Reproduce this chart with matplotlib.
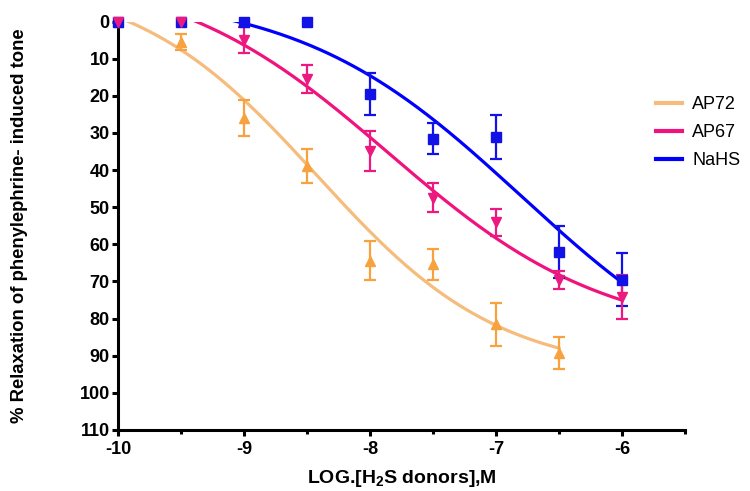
"""Concentration-response curves for H2S donors (relaxation of phenylephrine tone)."""

import matplotlib

matplotlib.use("Agg")
import matplotlib.pyplot as plt
import numpy as np
from matplotlib.ticker import MultipleLocator

# log molar concentrations
LOG_DOSE = [-10.0, -9.5, -9.0, -8.5, -8.0, -7.5, -7.0, -6.5, -6.0]

AP72_MEAN = [0.0, 5.5, 26.0, 39.0, 64.4, 65.4, 81.5, 89.3]
AP72_SEM = [0.0, 2.2, 4.9, 4.6, 5.2, 4.2, 5.8, 4.3]

AP67_MEAN = [0.0, 0.0, 4.9, 15.4, 34.8, 47.4, 54.1, 69.6, 74.1]
AP67_SEM = [0.0, 0.0, 3.5, 3.8, 5.4, 3.9, 3.6, 2.5, 5.9]

NAHS_MEAN = [0.0, 0.0, 0.0, 0.0, 19.5, 31.6, 31.0, 62.1, 69.5]
NAHS_SEM = [0.0, 0.0, 0.0, 0.0, 5.7, 4.2, 5.9, 7.0, 7.1]

# fitted four-parameter logistic: bottom, top, logEC50, hill slope
AP72_FIT = (-12.0, 95.0, -8.42, 0.60)
AP67_FIT = (-14.5, 85.5, -7.85, 0.504)
NAHS_FIT = (-8.0, 102.0, -6.80, 0.49)

Y_TICKS = list(range(0, 111, 10))
X_TICKS = [-10, -9, -8, -7, -6]

TICK_FONT = ["Liberation Sans Narrow", "Liberation Sans", "DejaVu Sans"]
TEXT_FONT = ["Liberation Sans", "DejaVu Sans"]

plt.rcParams["axes.unicode_minus"] = False
plt.rcParams["mathtext.fontset"] = "custom"
plt.rcParams["mathtext.rm"] = "Liberation Sans:bold"
plt.rcParams["mathtext.default"] = "rm"


def logistic(x, fit):
    bottom, top, logec50, hill = fit
    return bottom + (top - bottom) / (1.0 + 10.0 ** ((logec50 - x) * hill))


def draw_series(ax, mean, sem, fit, curve_color, mark_color, marker, label):
    x = np.array(LOG_DOSE[: len(mean)])
    y = np.array(mean)
    err = np.array(sem)
    xs = np.linspace(x[0], x[-1], 300)
    ax.plot(xs, logistic(xs, fit), color=curve_color, lw=2.3, label=label, zorder=2)
    has_err = err > 0
    ax.errorbar(
        x[has_err],
        y[has_err],
        yerr=err[has_err],
        fmt="none",
        ecolor=mark_color,
        elinewidth=1.6,
        capsize=4.6,
        capthick=1.6,
        zorder=3,
        clip_on=False,
    )
    ax.plot(
        x,
        y,
        linestyle="none",
        marker=marker,
        ms=7.5,
        color=mark_color,
        mec=mark_color,
        zorder=4,
        clip_on=False,
    )


fig = plt.figure(figsize=(7.5, 4.91), dpi=100)
ax = fig.add_axes([118 / 750, 1 - 430 / 491, (685 - 118) / 750, (430 - 21.5) / 491])

draw_series(ax, AP72_MEAN, AP72_SEM, AP72_FIT, "#F5BC7C", "#F7A23E", "^", "AP72")
draw_series(ax, NAHS_MEAN, NAHS_SEM, NAHS_FIT, "#0000FF", "#1212E6", "s", "NaHS")
draw_series(ax, AP67_MEAN, AP67_SEM, AP67_FIT, "#F0137E", "#EC1A80", "v", "AP67")

ax.set_xlim(-10, -5.5)
ax.set_ylim(110, 0)
ax.set_xticks(X_TICKS)
ax.xaxis.set_minor_locator(MultipleLocator(0.5))
ax.set_yticks(Y_TICKS)

for side in ("top", "right"):
    ax.spines[side].set_visible(False)
for side in ("left", "bottom"):
    ax.spines[side].set_linewidth(2.2)

ax.tick_params(axis="both", which="major", length=4, width=2.2, pad=2)
ax.tick_params(axis="x", which="minor", length=3, width=2.2)
ax.tick_params(axis="x", which="major", pad=4)
for lbl in ax.get_xticklabels() + ax.get_yticklabels():
    lbl.set_family(TICK_FONT)
    lbl.set_fontweight("bold")
    lbl.set_fontsize(13)

ax.set_xlabel(
    "LOG.[H$_2$S donors],M", family=TICK_FONT, fontweight="bold", fontsize=14, labelpad=7
)
ax.set_ylabel(
    "% Relaxation of phenylephrine- induced tone",
    family=TEXT_FONT,
    fontweight="bold",
    fontsize=13.3,
)
ax.yaxis.set_label_coords(-0.158, 0.5)

handles, labels = ax.get_legend_handles_labels()
order = [labels.index(n) for n in ("AP72", "AP67", "NaHS")]
leg = fig.legend(
    [handles[i] for i in order],
    [labels[i] for i in order],
    loc="upper left",
    bbox_to_anchor=(640 / 750, 1 - 80 / 491),
    frameon=False,
    prop={"family": TEXT_FONT, "size": 13},
    handlelength=1.4,
    handletextpad=0.6,
    labelspacing=0.6,
)
for line in leg.get_lines():
    line.set_linewidth(3)

fig.savefig("out.png", dpi=100)
